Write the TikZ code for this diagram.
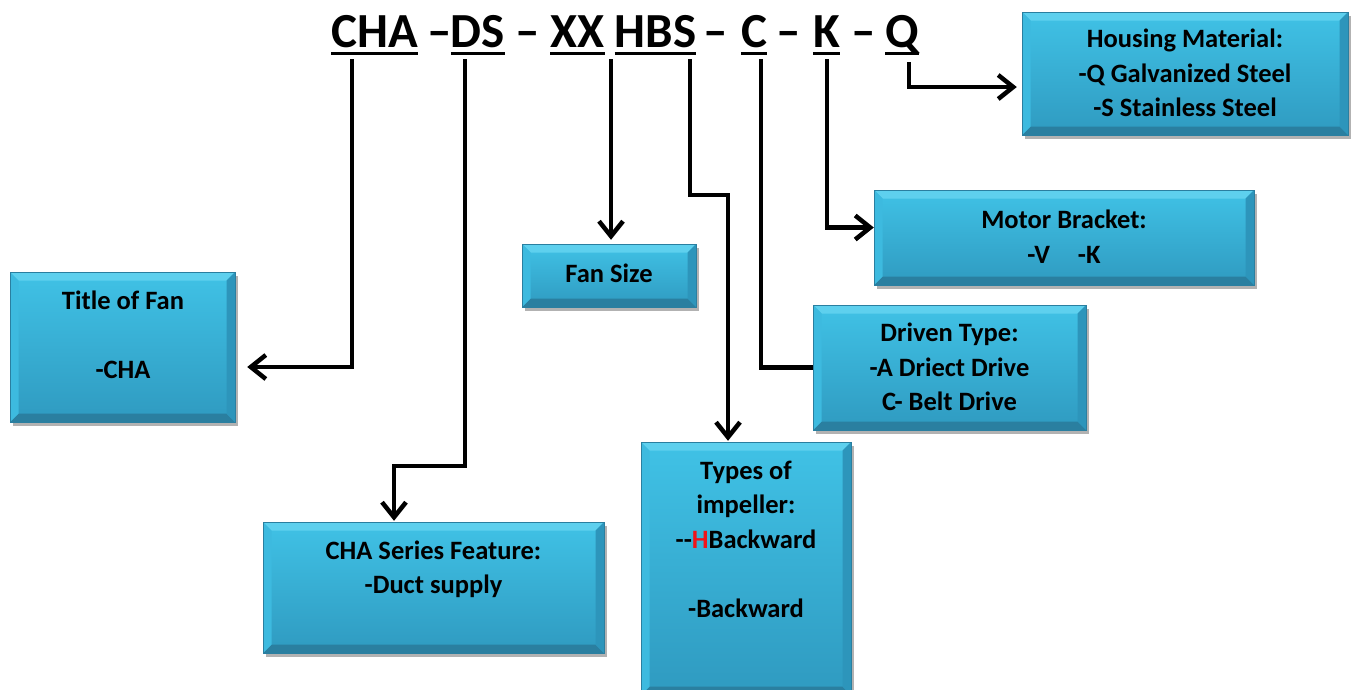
\documentclass[tikz,border=0pt]{standalone}
\usepackage{fontspec}
\setmainfont{Carlito}
\usetikzlibrary{arrows.meta,shadows}
\definecolor{facetop}{HTML}{40C2E6}
\definecolor{facebot}{HTML}{2F9AC0}
\definecolor{bvtop}{HTML}{5ED0EE}
\definecolor{bvleft}{HTML}{3DBADF}
\definecolor{bvright}{HTML}{2D95BB}
\definecolor{bvbot}{HTML}{2A7FA0}
\definecolor{hred}{HTML}{F0141A}
\begin{document}
\begin{tikzpicture}[x=1pt,y=-1pt,
  ttl/.style={font=\fontsize{49}{58}\selectfont\bfseries, inner sep=0pt, anchor=base},
  uline/.style={line width=3.2pt},
  txt/.style={font=\fontsize{26.5}{34.5}\selectfont\bfseries, align=center, inner sep=0pt},
  box/.style={rectangle, inner sep=0pt, draw=bvbot, line width=0.4pt,
    top color=facetop, bottom color=facebot,
    drop shadow={shadow xshift=2.5pt, shadow yshift=-3.5pt, fill=black, opacity=0.3},
    path picture={
      \def\bv{8.5pt}
      \path (path picture bounding box.north west) coordinate (pA)
            (path picture bounding box.north east) coordinate (pB)
            (path picture bounding box.south east) coordinate (pC)
            (path picture bounding box.south west) coordinate (pD);
      \path ([shift={(\bv,-\bv)}]pA) coordinate (qA)
            ([shift={(-\bv,-\bv)}]pB) coordinate (qB)
            ([shift={(-\bv,\bv)}]pC) coordinate (qC)
            ([shift={(\bv,\bv)}]pD) coordinate (qD);
      \fill[bvtop] (pA) -- (pB) -- (qB) -- (qA) -- cycle;
      \fill[bvbot] (pD) -- (pC) -- (qC) -- (qD) -- cycle;
      \fill[bvleft] (pA) -- (qA) -- (qD) -- (pD) -- cycle;
      \fill[bvright] (pB) -- (qB) -- (qC) -- (pC) -- cycle;
    }},
  lin/.style={line width=4.5pt, black},
  conn/.style={lin, -{Straight Barb[length=15pt,width=24pt]}}
]
\useasboundingbox (0,0) rectangle (1351,689);

% title code
\node[ttl] (wCHA) at (374.5,47) {CHA};
\node[ttl] (d1) at (439.5,47) {–};
\node[ttl] (wDS) at (478,47) {DS};
\node[ttl] (d2) at (528,47) {–};
\node[ttl] (wXX) at (577.5,47) {XX};
\node[ttl] (wHBS) at (655.5,47) {HBS};
\node[ttl] (d3) at (716,47) {–};
\node[ttl] (wC) at (754,47) {C};
\node[ttl] (d4) at (789,47) {–};
\node[ttl] (wK) at (826.5,47) {K};
\node[ttl] (d5) at (863.5,47) {–};
\node[ttl] (wQ) at (902,47) {Q};
\foreach \w in {wCHA,wDS,wXX,wHBS,wC,wK,wQ}
  \draw[uline] ([yshift=-6.5pt]\w.base west) -- ([yshift=-6.5pt]\w.base east);

% boxes
\node[box, minimum width=326pt, minimum height=123pt] (hm) at (1185,73.5) {};
\node[box, minimum width=380pt, minimum height=95pt] (mb) at (1064,237.5) {};
\node[box, minimum width=174pt, minimum height=63pt] (fs) at (609,275.5) {};
\node[box, minimum width=225pt, minimum height=150pt] (tf) at (122.5,347) {};
\node[box, minimum width=273pt, minimum height=125pt] (dt) at (949.5,367.5) {};
\node[box, minimum width=210pt, minimum height=253pt] (ti) at (746,568.5) {};
\node[box, minimum width=341pt, minimum height=131pt] (cs) at (433.5,587.5) {};

% box texts
\node[txt] (hmt) at (1185,73) {Housing Material:\\-Q Galvanized Steel\\-S Stainless Steel};
\node[txt] (mbt) at (1064,236.5) {Motor Bracket:\\-V\hspace{28pt}-K};
\node[txt] (fst) at (609,273) {Fan Size};
\node[txt] (tft) at (123,335) {Title of Fan\\[35pt]-CHA};
\node[txt] (dtt) at (949.5,367) {Driven Type:\\-A Driect Drive\\C- Belt Drive};
\node[txt] (tit) at (746,539) {Types of\\impeller:\\-{}-{\color{hred}H}Backward\\[34.5pt]-Backward};
\node[txt] (cst) at (433.5,569.5) {CHA Series Feature:\\-Duct supply};

% connector start points
\coordinate (sCHA) at (352,59);
\coordinate (sDS) at (465,59);
\coordinate (sXX) at (611,59);
\coordinate (sHBS) at (690,59);
\coordinate (sC) at (761,59);
\coordinate (sK) at (827,59);
\coordinate (sQ) at (909,62);
\coordinate (dsbend) at (394,466);
\coordinate (hbsbend) at (728,195);

% connectors
\draw[conn, shorten >=12pt] (sCHA) |- ([yshift=-20pt]tf.east);
\draw[conn, shorten >=1pt] (sDS) |- (dsbend) -- (dsbend |- cs.north);
\draw[conn, shorten >=4pt] (sXX) -- (sXX |- fs.north);
\draw[conn, shorten >=1pt] (sHBS) |- (hbsbend) -- (hbsbend |- ti.north);
\draw[lin] (sC) |- (dt.west);
\draw[conn] (sK) |- ([yshift=10pt]mb.west);
\draw[conn, shorten >=5pt] (sQ) |- ([yshift=-13.5pt]hm.west);
\end{tikzpicture}
\end{document}
